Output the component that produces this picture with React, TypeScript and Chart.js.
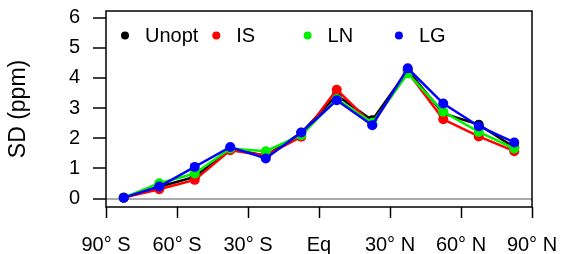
import React, { useEffect, useRef } from "react";
import { Chart, registerables } from "chart.js";

Chart.register(...registerables);

const latitudes = [-82.5, -67.5, -52.5, -37.5, -22.5, -7.5, 7.5, 22.5, 37.5, 52.5, 67.5, 82.5];
const unopt = [0.03, 0.39, 0.72, 1.65, 1.42, 2.18, 3.43, 2.6, 4.25, 2.82, 2.45, 1.7];
const isSeries = [0.03, 0.31, 0.62, 1.6, 1.43, 2.05, 3.61, 2.46, 4.2, 2.63, 2.06, 1.57];
const lnSeries = [0.03, 0.51, 0.83, 1.66, 1.57, 2.1, 3.3, 2.51, 4.15, 2.88, 2.21, 1.66];
const lgSeries = [0.03, 0.4, 1.05, 1.71, 1.33, 2.19, 3.26, 2.43, 4.32, 3.15, 2.4, 1.86];
const seriesNames = ["Unopt", "IS", "LN", "LG"];
const seriesColors = ["#000000", "#FF0000", "#00F000", "#0000FF"];
const xTickValues = [-90, -60, -30, 0, 30, 60, 90];
const xTickLabels = ["90° S", "60° S", "30° S", "Eq", "30° N", "60° N", "90° N"];
const yTickValues = [0, 1, 2, 3, 4, 5, 6];

const FONT = "'Liberation Sans', Arial, Helvetica, sans-serif";

const boxAndLegend = {
  id: "boxAndLegend",
  afterDraw(chart: any) {
    const { ctx, chartArea } = chart;
    ctx.save();
    ctx.strokeStyle = "#000";
    ctx.lineWidth = 1.5;
    ctx.strokeRect(chartArea.left, chartArea.top, chartArea.right - chartArea.left, chartArea.bottom - chartArea.top);
    ctx.font = `20px ${FONT}`;
    ctx.textBaseline = "middle";
    ctx.textAlign = "left";
    chart.data.datasets.forEach((ds: any, i: number) => {
      const cx = chartArea.left + 19 + i * 91.3;
      const cy = chartArea.top + 24.5;
      ctx.fillStyle = ds.borderColor;
      ctx.beginPath();
      ctx.arc(cx, cy, 4, 0, Math.PI * 2);
      ctx.fill();
      ctx.fillStyle = "#000";
      ctx.fillText(ds.label, cx + 20, cy + 1);
    });
    ctx.restore();
  },
};

const zeroPad = (s: any) => {
  s.paddingTop = 0;
  s.paddingBottom = 0;
  s.paddingLeft = 0;
  s.paddingRight = 0;
};

export default function App() {
  const ref = useRef<HTMLCanvasElement>(null);
  useEffect(() => {
    const all = [unopt, isSeries, lnSeries, lgSeries];
    const chart = new Chart(ref.current!, {
      type: "line",
      data: {
        datasets: all.map((vals, i) => ({
          label: seriesNames[i],
          data: vals.map((v, j) => ({ x: latitudes[j], y: v })),
          borderColor: seriesColors[i],
          backgroundColor: seriesColors[i],
          borderWidth: 2.5,
          pointRadius: 5,
          pointBorderWidth: 0,
          pointHoverRadius: 5,
          fill: false,
          tension: 0,
          order: 3 - i,
        })),
      },
      options: {
        animation: false,
        responsive: true,
        maintainAspectRatio: false,
        layout: { padding: { top: 11, right: 30, left: 0, bottom: 0 } },
        plugins: { legend: { display: false }, tooltip: { enabled: false } },
        scales: {
          x: {
            type: "linear",
            min: -90,
            max: 90,
            afterFit: (s: any) => { s.height = 47; zeroPad(s); },
            afterBuildTicks: (s: any) => { s.ticks = xTickValues.map((v) => ({ value: v })); },
            border: { display: false },
            grid: { drawOnChartArea: false, drawTicks: true, tickLength: 11, tickColor: "#000", tickWidth: 1.5 },
            ticks: {
              autoSkip: false,
              maxRotation: 0,
              padding: 15,
              color: "#000",
              font: { size: 20, family: FONT },
              callback: (v: any) => {
                const k = xTickValues.indexOf(Number(v));
                return k >= 0 ? xTickLabels[k] : "";
              },
            },
          },
          y: {
            type: "linear",
            min: -0.28,
            max: 6.22,
            afterFit: (s: any) => { s.width = 106; zeroPad(s); },
            afterBuildTicks: (s: any) => { s.ticks = yTickValues.map((v) => ({ value: v })); },
            border: { display: false },
            grid: {
              drawOnChartArea: true,
              drawTicks: true,
              tickLength: 13,
              tickColor: "#000",
              tickWidth: 1.5,
              color: (c: any) => (c.tick && c.tick.value === 0 ? "#AAAAAA" : "rgba(0,0,0,0)"),
              lineWidth: (c: any) => (c.tick && c.tick.value === 0 ? 2 : 0),
            },
            title: {
              display: true,
              text: "SD (ppm)",
              color: "#000",
              font: { size: 23, family: FONT },
              padding: { top: 5, bottom: 0 },
            },
            ticks: {
              padding: 13,
              color: "#000",
              font: { size: 20, family: FONT },
              callback: (v: any) => String(v),
            },
          },
        },
      },
      plugins: [boxAndLegend],
    });
    return () => chart.destroy();
  }, []);
  return (
    <div style={{ position: "absolute", left: 0, top: 0, width: 562, height: 254, background: "#fff" }}>
      <canvas ref={ref} />
    </div>
  );
}
